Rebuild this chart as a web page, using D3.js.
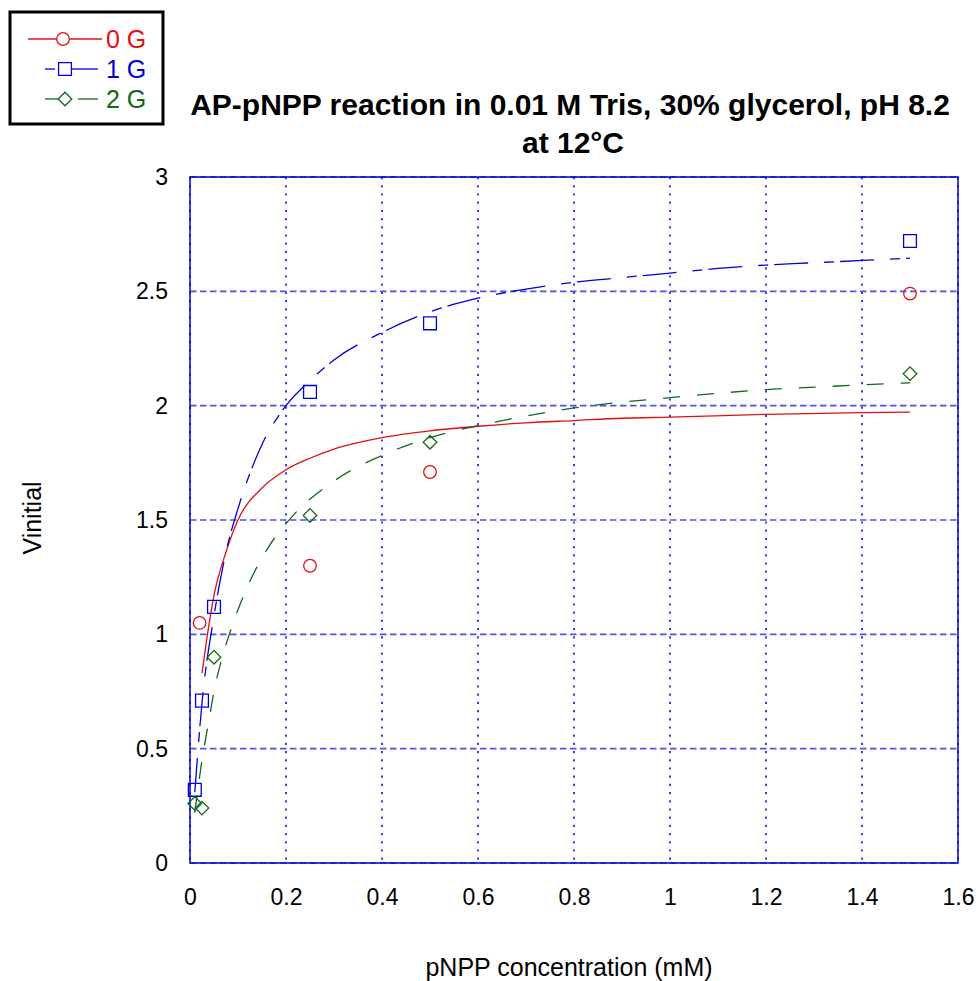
<!DOCTYPE html>
<html>
<head>
<meta charset="utf-8">
<script src="https://cdn.jsdelivr.net/npm/d3@7"></script>
<style>
  body { margin: 0; background: #fff; }
  text { font-family: "Liberation Sans", Arial, sans-serif; }
</style>
</head>
<body>
<div id="chart"></div>
<script>
// Measured points (pNPP concentration in mM, initial velocity)
var seriesNames = ["0 G", "1 G", "2 G"];
var pts0x = [0.02, 0.25, 0.5, 1.5];
var pts0y = [1.05, 1.30, 1.71, 2.49];
var pts1x = [0.01, 0.025, 0.05, 0.25, 0.5, 1.5];
var pts1y = [0.32, 0.71, 1.12, 2.06, 2.36, 2.72];
var pts2x = [0.01, 0.025, 0.05, 0.25, 0.5, 1.5];
var pts2y = [0.26, 0.24, 0.90, 1.52, 1.84, 2.14];

// Fitted curves
var fit0x = [0.025, 0.035, 0.05, 0.075, 0.1, 0.15, 0.2, 0.25, 0.3, 0.4, 0.5, 0.6, 0.7, 0.8, 0.9, 1.0, 1.2, 1.4, 1.5];
var fit0y = [0.83, 0.98, 1.17, 1.36, 1.50, 1.64, 1.72, 1.77, 1.81, 1.86, 1.89, 1.91, 1.925, 1.935, 1.945, 1.95, 1.962, 1.97, 1.972];
var fit1x = [0.01, 0.025, 0.05, 0.075, 0.1, 0.15, 0.2, 0.25, 0.3, 0.4, 0.5, 0.6, 0.7, 0.8, 0.9, 1.0, 1.1, 1.2, 1.3, 1.4, 1.5];
var fit1y = [0.31, 0.70, 1.08, 1.36, 1.55, 1.83, 2.0, 2.11, 2.2, 2.32, 2.41, 2.47, 2.51, 2.54, 2.56, 2.58, 2.60, 2.615, 2.625, 2.635, 2.645];
var fit2x = [0.01, 0.025, 0.04, 0.05, 0.07, 0.09, 0.12, 0.16, 0.215, 0.3, 0.42, 0.5, 0.64, 0.8, 1.0, 1.2, 1.35, 1.5];
var fit2y = [0.22, 0.45, 0.63, 0.75, 0.92, 1.05, 1.21, 1.37, 1.52, 1.67, 1.80, 1.86, 1.93, 1.99, 2.035, 2.07, 2.086, 2.10];

var xTicks = [0, 0.2, 0.4, 0.6, 0.8, 1, 1.2, 1.4, 1.6];
var yTicks = [0, 0.5, 1, 1.5, 2, 2.5, 3];

var colors = ["#e01010", "#0000dd", "#11681a"];
var dashes = [null, "34,16,10,6", "17,17"];

var W = 979, H = 981;
var margin = {top: 177, right: 21, bottom: 118, left: 190},
    width = W - margin.left - margin.right,
    height = H - margin.top - margin.bottom;

var svg = d3.select("#chart").append("svg")
    .attr("width", W).attr("height", H);

var g = svg.append("g")
    .attr("transform", "translate(" + margin.left + "," + margin.top + ")");

var x = d3.scaleLinear().domain([0, 1.6]).range([0, width]);
var y = d3.scaleLinear().domain([0, 3]).range([height, 0]);

// grid: vertical dotted, horizontal dashed
g.append("g").selectAll("line").data(xTicks).join("line")
    .attr("x1", d => x(d)).attr("x2", d => x(d))
    .attr("y1", 0).attr("y2", height)
    .attr("stroke", "#2a2aee").attr("stroke-width", 1.8)
    .attr("stroke-dasharray", "2.2,6");
g.append("g").selectAll("line").data(yTicks).join("line")
    .attr("x1", 0).attr("x2", width)
    .attr("y1", d => y(d)).attr("y2", d => y(d))
    .attr("stroke", "#5050ee").attr("stroke-width", 1.6)
    .attr("stroke-dasharray", "6.5,3.5");

// frame
g.append("rect")
    .attr("width", width).attr("height", height)
    .attr("fill", "none").attr("stroke", "#0000cc").attr("stroke-width", 1.5);

// axes (labels only)
var xAxis = g.append("g")
    .attr("transform", "translate(0," + height + ")")
    .call(d3.axisBottom(x).tickValues(xTicks).tickSize(0).tickPadding(26).tickFormat(d3.format("")));
var yAxis = g.append("g")
    .call(d3.axisLeft(y).tickValues(yTicks).tickSize(0).tickPadding(22).tickFormat(d3.format("")));
[xAxis, yAxis].forEach(function(a) {
  a.select(".domain").remove();
  a.selectAll("text").attr("font-size", 23).attr("fill", "#000")
    .attr("font-family", "'Liberation Sans', Arial, sans-serif");
});

// fitted curves
var fits = [[fit0x, fit0y], [fit1x, fit1y], [fit2x, fit2y]];
var line = d3.line().x(d => x(d[0])).y(d => y(d[1])).curve(d3.curveMonotoneX);
fits.forEach(function(f, i) {
  g.append("path")
      .datum(d3.zip(f[0], f[1]))
      .attr("fill", "none")
      .attr("stroke", colors[i])
      .attr("stroke-width", 1.3)
      .attr("stroke-dasharray", dashes[i])
      .attr("d", line);
});

// markers: circle, square, diamond (square turned 45 degrees)
var markSym = [d3.symbolCircle, d3.symbolSquare, d3.symbolSquare];
var markSize = [125, 165, 92];
var markRot = [0, 0, 45];
function mark(sel, i) {
  sel.attr("d", d3.symbol().type(markSym[i]).size(markSize[i]))
     .attr("stroke", colors[i])
     .attr("stroke-width", 1.3);
}
var pts = [[pts0x, pts0y], [pts1x, pts1y], [pts2x, pts2y]];
pts.forEach(function(p, i) {
  g.append("g").selectAll("path").data(d3.zip(p[0], p[1])).join("path")
      .attr("transform", d => "translate(" + x(d[0]) + "," + y(d[1]) + ") rotate(" + markRot[i] + ")")
      .attr("fill", "none")
      .call(mark, i);
});

// titles
svg.append("text")
    .attr("x", 570).attr("y", 115)
    .attr("text-anchor", "middle")
    .attr("font-size", 30).attr("font-weight", "bold")
    .text("AP-pNPP reaction in 0.01 M Tris, 30% glycerol, pH 8.2");
svg.append("text")
    .attr("x", 573).attr("y", 153)
    .attr("text-anchor", "middle")
    .attr("font-size", 30).attr("font-weight", "bold")
    .text("at 12°C");

svg.append("text")
    .attr("x", 569).attr("y", 976)
    .attr("text-anchor", "middle")
    .attr("font-size", 25)
    .text("pNPP concentration (mM)");
svg.append("text")
    .attr("transform", "translate(41,518) rotate(-90)")
    .attr("text-anchor", "middle")
    .attr("font-size", 25)
    .text("Vinitial");

// legend
var lg = svg.append("g");
lg.append("rect")
    .attr("x", 10).attr("y", 12).attr("width", 153).attr("height", 112)
    .attr("fill", "#fff").attr("stroke", "#000").attr("stroke-width", 3);
var legSegs = [
  [[28, 102]],
  [[45, 55], [72, 98]],
  [[45, 58], [78, 98]]
];
var legMarkX = [63, 65, 65];
seriesNames.forEach(function(name, i) {
  var ly = 39 + i * 30;
  legSegs[i].forEach(function(s) {
    lg.append("line")
        .attr("x1", s[0]).attr("x2", s[1]).attr("y1", ly).attr("y2", ly)
        .attr("stroke", colors[i]).attr("stroke-width", 1.3);
  });
  lg.append("path")
      .attr("transform", "translate(" + legMarkX[i] + "," + ly + ") rotate(" + markRot[i] + ")")
      .attr("fill", "#fff")
      .call(mark, i);
  lg.append("text")
      .attr("x", 106).attr("y", ly + 9)
      .attr("font-size", 25)
      .attr("fill", colors[i])
      .text(name);
});
</script>
</body>
</html>
